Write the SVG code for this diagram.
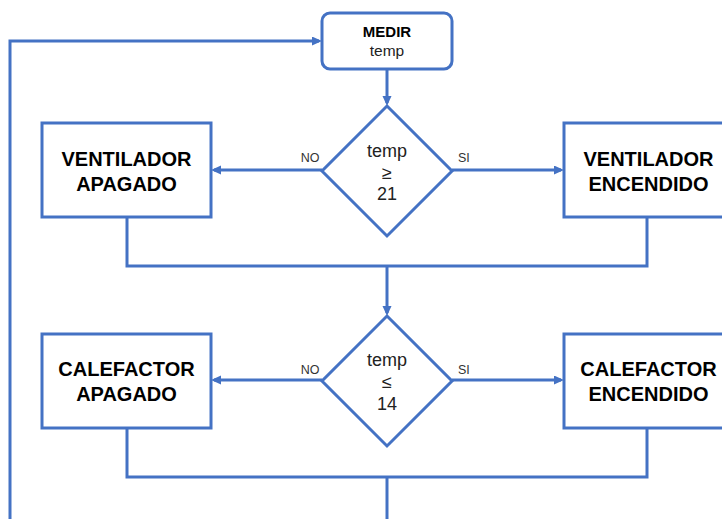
<svg xmlns="http://www.w3.org/2000/svg" width="722" height="519" viewBox="0 0 722 519">
<style>
.box{fill:#fff;stroke:#4472C4;stroke-width:3}
.ln{fill:none;stroke:#4472C4;stroke-width:3;stroke-linejoin:miter}
.b{font-family:"Liberation Sans",Arial,sans-serif;font-weight:bold;font-size:20px;fill:#000;text-anchor:middle}
.d{font-family:"Liberation Sans",Arial,sans-serif;font-size:18px;fill:#222;text-anchor:middle}
.l{font-family:"Liberation Sans",Arial,sans-serif;font-size:12.5px;fill:#333}
</style>
<defs>
<marker id="ah" markerUnits="userSpaceOnUse" markerWidth="10" markerHeight="10" refX="7" refY="4.5" orient="auto">
<path d="M0,0 L10,4.5 L0,9 z" fill="#4472C4"/>
</marker>
</defs>
<rect width="722" height="519" fill="#fff"/>
<g id="connectors">
<path class="ln" d="M10,519 V41 H319" marker-end="url(#ah)"/>
<path class="ln" d="M387,69 V103" marker-end="url(#ah)"/>
<path class="ln" d="M322,170 H214" marker-end="url(#ah)"/>
<path class="ln" d="M452,170 H561" marker-end="url(#ah)"/>
<path class="ln" d="M127,217 V266 H647 V217"/>
<path class="ln" d="M387,266 V313" marker-end="url(#ah)"/>
<path class="ln" d="M322,380 H214" marker-end="url(#ah)"/>
<path class="ln" d="M452,380 H561" marker-end="url(#ah)"/>
<path class="ln" d="M127,428 V477 H647 V428"/>
<path class="ln" d="M387,477 V519"/>
<text class="l" x="310" y="161.5" text-anchor="middle">NO</text>
<text class="l" x="458" y="161.5">SI</text>
<text class="l" x="310" y="374" text-anchor="middle">NO</text>
<text class="l" x="458" y="374">SI</text>
</g>
<g id="medir">
<rect class="box" x="322" y="13" width="130" height="56" rx="8"/>
<text class="b" x="387" y="37.3" style="font-size:15px">MEDIR</text>
<text class="d" x="387" y="55.7" style="font-size:15.5px">temp</text>
</g>
<g id="dec1">
<polygon class="box" points="387,106 452,171 387,236 322,171"/>
<text class="d" x="387" y="157">temp</text>
<text class="d" x="387" y="178.5">≥</text>
<text class="d" x="387" y="200">21</text>
</g>
<g id="vent-apagado">
<rect class="box" x="42" y="123" width="169" height="94"/>
<text class="b" x="126.5" y="166">VENTILADOR</text>
<text class="b" x="126.5" y="191">APAGADO</text>
</g>
<g id="vent-encendido">
<rect class="box" x="564" y="123" width="169" height="94"/>
<text class="b" x="648.5" y="166">VENTILADOR</text>
<text class="b" x="648.5" y="191">ENCENDIDO</text>
</g>
<g id="dec2">
<polygon class="box" points="387,316 452,381 387,446 322,381"/>
<text class="d" x="387" y="366">temp</text>
<text class="d" x="387" y="388">≤</text>
<text class="d" x="387" y="409.5">14</text>
</g>
<g id="cal-apagado">
<rect class="box" x="42" y="334" width="169" height="94"/>
<text class="b" x="126.5" y="376">CALEFACTOR</text>
<text class="b" x="126.5" y="401">APAGADO</text>
</g>
<g id="cal-encendido">
<rect class="box" x="564" y="334" width="169" height="94"/>
<text class="b" x="648.5" y="376">CALEFACTOR</text>
<text class="b" x="648.5" y="401">ENCENDIDO</text>
</g>
</svg>
